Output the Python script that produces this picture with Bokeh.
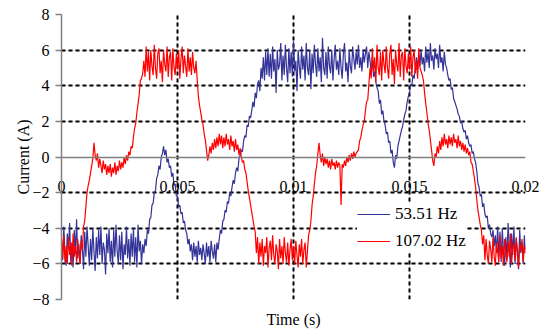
import numpy as np
from bokeh.plotting import figure
from bokeh.models import (LinearAxis, FixedTicker, Grid, Range1d, Legend,
                          LegendItem, ColumnDataSource)
from bokeh.embed import file_html
from bokeh.resources import INLINE

# ---------------- data ----------------
sample_step = 0.00005  # s between samples

current_53_51 = [
    -4.6, -5.8, -3.9, -5.5, -6.1, -4.3, -5.2, -3.7, -5.9, -4.8, -6.2, -4.1, -5.4, -3.5, -5.7, -4.9, -6.0, -4.4, -5.1, -6.3,
    -4.2, -5.6, -3.9, -5.0, -6.1, -4.6, -5.8, -4.0, -5.3, -6.4, -4.5, -5.7, -4.1, -5.5, -3.9, -6.0, -4.8, -5.2, -6.6, -4.3,
    -5.4, -4.0, -5.9, -4.7, -6.2, -4.1, -5.6, -3.8, -5.3, -6.0, -4.4, -5.8, -4.2, -6.3, -4.9, -5.5, -3.9, -5.7, -4.6, -6.1,
    -4.3, -5.6, -4.0, -5.9, -4.5, -6.2, -3.8, -5.3, -4.7, -6.0, -4.9, -5.4, -4.6, -5.0, -4.1, -4.3, -3.5, -3.4, -2.7, -2.6,
    -2.0, -1.9, -1.2, -1.0, -0.5, -0.7, 0.0, 0.2, 0.6, 0.1, 0.4, -0.3, -0.1, -0.6, -0.5, -1.1, -0.9, -1.6, -1.5, -2.2,
    -2.2, -2.8, -2.7, -3.2, -3.1, -3.7, -3.6, -4.1, -4.3, -4.9, -4.6, -5.3, -4.9, -5.8, -4.8, -5.6, -5.0, -5.9, -4.7, -5.5,
    -5.1, -5.8, -4.9, -5.4, -6.0, -4.8, -5.6, -5.0, -5.9, -4.7, -5.3, -5.7, -4.9, -5.9, -4.8, -5.2, -4.6, -4.1, -4.3, -3.6,
    -3.5, -3.0, -3.1, -2.5, -2.6, -2.0, -2.2, -1.7, -1.3, -1.5, -0.9, -0.6, -0.8, -0.1, 0.1, 0.4, 0.3, 0.9, 1.2, 1.1,
    1.8, 1.7, 2.3, 2.2, 2.6, 3.1, 2.8, 3.6, 3.3, 4.1, 4.3, 3.7, 5.0, 4.4, 5.6, 4.3, 5.9, 4.6, 6.1, 4.5,
    5.8, 4.4, 6.2, 4.8, 5.5, 3.6, 6.0, 4.9, 5.2, 6.4, 4.3, 5.7, 4.6, 6.3, 5.0, 4.2, 6.1, 4.7, 5.9, 4.5,
    6.5, 4.8, 5.4, 3.7, 6.0, 5.1, 4.4, 6.2, 4.9, 5.7, 4.3, 6.4, 5.0, 4.6, 6.0, 3.8, 5.8, 4.7, 6.3, 5.2,
    4.5, 6.1, 4.8, 5.6, 4.2, 6.7, 5.0, 4.6, 5.9, 4.4, 6.2, 5.1, 4.7, 6.0, 4.3, 5.5, 6.3, 4.9, 5.4, 4.6,
    6.1, 5.0, 4.4, 5.8, 6.4, 4.8, 5.3, 4.2, 6.0, 5.1, 4.7, 6.2, 5.5, 4.9, 5.9, 5.2, 6.3, 5.0, 5.6, 4.8,
    6.0, 5.3, 5.8, 6.2, 5.0, 5.9, 5.4, 4.7, 5.6, 4.5, 4.8, 4.2, 3.9, 3.7, 3.0, 3.2, 2.4, 2.6, 2.0, 1.8,
    1.3, 1.4, 0.8, 0.9, 0.2, 0.4, -0.3, -0.6, 0.1, -0.1, 0.6, 0.9, 1.2, 1.5, 1.7, 2.1, 2.4, 2.6, 3.1, 3.4,
    3.6, 4.1, 4.0, 4.6, 4.4, 5.0, 5.6, 4.9, 5.8, 5.1, 6.0, 5.2, 5.6, 4.8, 6.2, 5.3, 5.9, 5.0, 6.4, 5.4,
    5.7, 4.9, 6.1, 5.5, 5.8, 5.0, 6.3, 5.3, 5.6, 4.8, 5.9, 5.2, 5.0, 4.6, 4.3, 4.4, 3.8, 3.9, 3.3, 3.1,
    2.9, 2.7, 2.4, 2.3, 1.9, 2.0, 1.6, 1.4, 1.5, 1.0, 1.2, 0.8, 0.6, 0.7, 0.2, 0.3, -0.1, -0.3, -0.8, -1.5,
    -1.7, -2.2, -2.1, -2.8, -2.6, -3.2, -3.4, -3.3, -4.0, -3.8, -4.3, -4.5, -4.1, -5.0, -4.4, -5.4, -3.9, -5.6, -4.2, -5.9,
    -4.0, -5.3, -6.1, -4.5, -5.7, -3.7, -5.0, -6.2, -4.3, -5.5, -3.9, -6.0, -4.6, -5.2, -6.3, -4.1, -5.4, -4.8, -6.0, -4.4, -5.2,
]

current_107_02 = [
    -4.6, -5.7, -4.4, -5.9, -5.0, -6.0, -4.5, -5.5, -4.8, -6.1, -4.3, -5.6, -5.0, -5.9, -4.6, -5.4, -6.0, -4.7, -5.2, -3.9,
    -3.6, -2.8, -2.0, -1.6, -1.3, -0.9, -0.5, -0.1, 0.8, 0.1, -0.2, 0.2, -0.6, -0.1, -0.5, -0.9, -0.2, -0.7, -0.4, -1.0,
    -0.5, -0.9, -0.4, -1.1, -0.6, -0.9, -0.3, -1.0, -0.5, -0.8, -0.2, -0.7, -0.3, -0.6, 0.0, -0.4, 0.1, -0.2, 0.3, 0.1,
    0.6, 0.5, 1.1, 1.6, 1.9, 2.5, 3.0, 3.5, 4.3, 4.4, 4.7, 5.4, 4.5, 6.2, 4.8, 5.9, 4.3, 6.0, 5.1, 4.6,
    6.3, 5.0, 4.4, 5.8, 6.1, 4.7, 5.4, 4.2, 6.0, 5.2, 4.8, 6.2, 4.5, 5.6, 5.9, 4.3, 6.1, 5.0, 4.6, 5.8,
    4.9, 6.0, 4.4, 5.5, 6.2, 4.7, 5.7, 5.1, 4.5, 6.1, 4.8, 5.6, 4.6, 5.9, 5.0, 4.7, 5.4, 4.3, 3.4, 2.9,
    2.5, 2.1, 1.8, 1.3, 0.95, 0.4, -0.2, 0.1, 0.6, 0.2, 0.8, 0.4, 1.0, 0.5, 1.1, 0.6, 1.3, 0.7, 1.2, 0.5,
    1.1, 0.6, 1.3, 0.7, 1.0, 0.4, 1.2, 0.6, 0.9, 0.3, 1.0, 0.4, 0.7, 0.1, 0.5, 0.0, -0.3, -0.2, -0.7, -0.9,
    -1.4, -1.9, -2.3, -2.7, -3.1, -3.5, -3.9, -4.2, -5.4, -4.5, -6.0, -4.8, -5.6, -4.6, -6.1, -5.0, -5.4, -4.5, -6.2, -5.1,
    -4.7, -5.8, -4.4, -5.5, -6.0, -4.9, -5.3, -6.3, -4.6, -5.7, -5.0, -6.0, -4.5, -5.4, -5.9, -4.8, -6.1, -5.2, -4.6, -5.8,
    -5.0, -6.0, -4.7, -5.5, -6.2, -4.9, -5.6, -4.6, -6.0, -5.2, -4.8, -6.2, -5.3, -4.4, -4.1, -3.6, -2.7, -2.2, -1.5, -0.9,
    -0.5, 0.2, 0.8, 0.1, -0.3, 0.2, -0.5, 0.0, -0.4, -0.1, -0.6, -0.2, -0.7, -0.1, -0.5, -0.3, -0.7, -0.2, -0.6, -0.3,
    -0.5, -2.7, -0.4, -0.6, -0.2, -0.5, 0.0, -0.3, 0.1, -0.2, 0.2, -0.1, 0.3, 0.0, 0.2, 0.3, 0.4, 0.9, 1.1, 1.5,
    1.8, 2.0, 2.6, 3.1, 3.2, 4.1, 5.0, 4.4, 6.1, 4.8, 5.6, 4.2, 6.3, 5.0, 4.6, 5.9, 4.3, 6.0, 5.2, 4.7,
    6.2, 5.0, 4.4, 5.8, 6.3, 4.6, 5.5, 4.1, 6.0, 5.2, 4.8, 6.4, 4.5, 5.7, 5.9, 4.3, 6.1, 5.1, 4.7, 5.8,
    4.9, 6.2, 4.5, 5.6, 6.0, 4.7, 5.4, 4.4, 6.1, 5.0, 4.8, 4.6, 4.3, 3.6, 3.0, 2.5, 1.9, 1.5, 0.95, 0.4,
    -0.2, -0.5, 0.2, 0.0, 0.6, 0.2, 0.9, 0.4, 1.1, 0.6, 1.3, 0.7, 1.0, 0.5, 1.2, 0.7, 1.1, 0.6, 1.3, 0.8,
    1.0, 0.5, 1.2, 0.6, 0.9, 0.4, 0.8, 0.3, 0.7, 0.2, 0.5, 0.1, 0.3, -0.3, -0.4, -0.8, -1.2, -1.7, -2.4, -3.0,
    -3.4, -3.8, -4.1, -4.9, -4.4, -5.8, -4.6, -5.5, -6.0, -4.7, -5.2, -5.9, -4.5, -5.6, -6.1, -4.8, -5.3, -5.9, -4.4, -5.7,
    -5.0, -6.1, -4.6, -5.4, -5.9, -4.7, -5.6, -4.3, -6.0, -5.1, -4.8, -5.8, -4.5, -5.5, -6.2, -4.9, -5.3, -4.6, -5.9, -5.0, -5.4,
]

series_labels = ["53.51 Hz", "107.02 Hz"]
x_ticks = [0, 0.005, 0.01, 0.015, 0.02]
x_tick_labels = ["0", "0.005", "0.01", "0.015", "0.02"]
y_ticks = [-8, -6, -4, -2, 0, 2, 4, 6, 8]

FONT = "Liberation Serif"

time_blue = [round(i * sample_step, 7) for i in range(len(current_53_51))]
time_red = [round(i * sample_step, 7) for i in range(len(current_107_02))]

p = figure(frame_width=464, frame_height=285,
           x_range=Range1d(0, 0.02), y_range=Range1d(-8, 8),
           x_axis_location=None, y_axis_location=None,
           min_border_left=61, min_border_right=22, min_border_top=14,
           min_border_bottom=10, title=None,
           output_backend="svg", toolbar_location=None)
p.outline_line_color = None
p.background_fill_color = "white"

# grids (black dotted)
grid_x = Grid(dimension=0, ticker=FixedTicker(ticks=[t for t in x_ticks if t != 0]),
              grid_line_color="black", grid_line_width=2, grid_line_dash="4 3")
grid_y = Grid(dimension=1, ticker=FixedTicker(ticks=[t for t in y_ticks if t != 0]),
              grid_line_color="black", grid_line_width=2, grid_line_dash="4 3")
p.add_layout(grid_x)
p.add_layout(grid_y)

src_b = ColumnDataSource(dict(t=time_blue, i=current_53_51))
src_r = ColumnDataSource(dict(t=time_red, i=current_107_02))
rb = p.line("t", "i", source=src_b, line_color="#333399", line_width=1.2)
rr = p.line("t", "i", source=src_r, line_color="#FF0000", line_width=1.2)

# y axis (left)
yaxis = LinearAxis(ticker=FixedTicker(ticks=y_ticks),
                   axis_label="Current (A)",
                   axis_line_color="#808080", axis_line_width=1.5,
                   major_tick_line_color="#808080", major_tick_line_width=1.5,
                   major_tick_out=6, major_tick_in=0,
                   minor_tick_line_color=None,
                   major_label_standoff=6,
                   major_label_text_font=FONT, major_label_text_font_size="16px",
                   major_label_text_color="black",
                   axis_label_text_font=FONT, axis_label_text_font_size="16px",
                   axis_label_text_font_style="normal", axis_label_text_color="black",
                   axis_label_standoff=-3)
p.add_layout(yaxis, "left")

# x axis line crossing at y = 0 (line only)
xaxis = LinearAxis(ticker=FixedTicker(ticks=x_ticks),
                   fixed_location=0,
                   axis_line_color="#808080", axis_line_width=1.5,
                   major_tick_line_color=None, major_tick_out=0, major_tick_in=0,
                   minor_tick_line_color=None,
                   major_label_text_color=None, major_label_text_font_size="1px")
p.add_layout(xaxis, "below")

# x tick labels: an unclipped axis in the top panel whose labels are pulled
# down to sit just under the y = 0 line
xlab_axis = LinearAxis(ticker=FixedTicker(ticks=x_ticks),
                       major_label_overrides={t: l for t, l in zip(x_ticks, x_tick_labels)},
                       axis_line_color=None, major_tick_line_color=None,
                       minor_tick_line_color=None, major_tick_out=0, major_tick_in=0,
                       major_label_standoff=-177,
                       major_label_text_font=FONT, major_label_text_font_size="16px",
                       major_label_text_color="black")
p.add_layout(xlab_axis, "above")

# x-axis title below the plot
xtitle = LinearAxis(ticker=FixedTicker(ticks=[]), axis_label="Time (s)",
                    axis_line_color=None, major_tick_line_color=None,
                    minor_tick_line_color=None, major_tick_out=0, major_tick_in=0,
                    major_label_standoff=0,
                    axis_label_text_font=FONT, axis_label_text_font_size="16px",
                    axis_label_text_font_style="normal", axis_label_text_color="black",
                    axis_label_standoff=11)
p.add_layout(xtitle, "below")

legend = Legend(items=[LegendItem(label=series_labels[0], renderers=[rb]),
                       LegendItem(label=series_labels[1], renderers=[rr])],
                location=(296, 48), border_line_color=None,
                background_fill_color="white", background_fill_alpha=1.0,
                padding=5, spacing=7, margin=0,
                glyph_width=33, glyph_height=20, label_height=20, label_standoff=5,
                label_text_font=FONT, label_text_font_size="17px",
                label_text_color="black")
p.add_layout(legend)

open("out.html", "w").write(file_html(p, INLINE))
